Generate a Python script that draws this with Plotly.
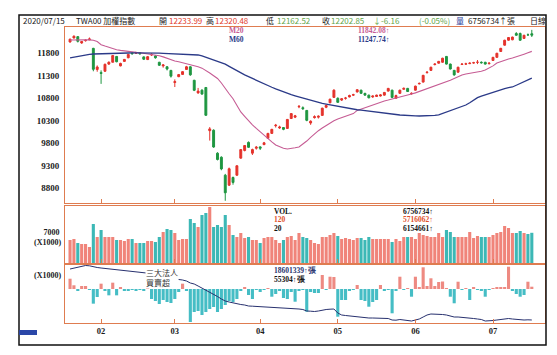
import plotly.graph_objects as go

# ---------------- data ----------------
jan_days = [13, 14, 15, 16, 17, 20, 30, 31]
feb_days = [3, 4, 5, 6, 7, 10, 11, 12, 13, 14, 17, 18, 19, 20, 21, 24, 25, 26, 27]
mar_days = [2, 3, 4, 5, 6, 9, 10, 11, 12, 13, 16, 17, 18, 19, 20, 23, 24, 25, 26, 27, 30, 31]
apr_days = [1, 6, 7, 8, 9, 10, 13, 14, 15, 16, 17, 20, 21, 22, 23, 24, 27, 28, 29, 30]
may_days = [4, 5, 6, 7, 8, 11, 12, 13, 14, 15, 18, 19, 20, 21, 22, 25, 26, 27, 28, 29]
jun_days = [1, 2, 3, 4, 5, 8, 9, 10, 11, 12, 15, 16, 17, 18, 19, 22, 23, 24, 29, 30]
jul_days = [1, 2, 3, 6, 7, 8, 9, 10, 13, 14, 15]

opens = [12050, 12140, 12170, 12030, 12080, 12100, 11910, 11440, 11370, 11400,
         11560, 11600, 11730, 11520, 11620, 11700, 11800, 11800, 11810, 11720,
         11660, 11760, 11740, 11600, 11520, 11500, 11420, 11150, 11280, 11330,
         11440, 11500, 11200, 10920, 10980, 11040, 10080, 10090, 9580, 9490,
         9090, 8870, 9040, 9090, 9470, 9640, 9820, 9580, 9690, 9720,
         9770, 9910, 10020, 10190, 10140, 10150, 10130, 10350, 10380, 10610,
         10590, 10530, 10250, 10370, 10380, 10420, 10600, 10700, 10820, 10800,
         10760, 10800, 10830, 10870, 10940, 10980, 10910, 10870, 10830, 10840,
         10850, 10870, 10960, 10980, 10800, 10910, 11000, 11020, 10900, 10980,
         11120, 11160, 11370, 11420, 11550, 11580, 11600, 11730, 11560, 11420,
         11380, 11550, 11560, 11570, 11585, 11600, 11600, 11600, 11570, 11640,
         11710, 11840, 11980, 12090, 12100, 12240, 12240, 12130, 12210, 12233.99]
highs = [12125, 12197, 12180, 12070, 12110, 12150, 11920, 11530, 11420, 11570,
         11620, 11760, 11740, 11590, 11670, 11780, 11830, 11835, 11820, 11730,
         11740, 11800, 11760, 11610, 11560, 11510, 11430, 11220, 11340, 11400,
         11520, 11510, 11210, 11030, 11000, 11050, 10160, 10110, 9600, 9510,
         9120, 9260, 9060, 9310, 9670, 9760, 9840, 9680, 9740, 9730,
         9830, 10030, 10120, 10230, 10190, 10160, 10340, 10470, 10430, 10650,
         10620, 10540, 10310, 10420, 10420, 10590, 10660, 10790, 11000, 10820,
         10800, 10830, 10880, 10900, 11000, 10990, 10920, 10880, 10860, 10880,
         10890, 10940, 11030, 10990, 10880, 10990, 11040, 11030, 10930, 11080,
         11150, 11320, 11400, 11500, 11580, 11630, 11700, 11740, 11570, 11430,
         11500, 11580, 11590, 11600, 11610, 11650, 11620, 11610, 11600, 11720,
         11810, 11920, 12100, 12160, 12170, 12270, 12260, 12210, 12240, 12320.48]
lows = [12040, 12130, 12040, 12010, 12060, 12090, 11400, 11390, 11120, 11390,
        11540, 11600, 11600, 11510, 11610, 11690, 11770, 11785, 11770, 11650,
        11650, 11740, 11680, 11520, 11480, 11420, 11260, 11050, 11270, 11320,
        11430, 11300, 10960, 10900, 10880, 10410, 9860, 9700, 9420, 9200,
        8523, 8850, 8880, 9080, 9460, 9620, 9700, 9540, 9660, 9650,
        9760, 9900, 10010, 10150, 10120, 10090, 10120, 10340, 10360, 10580,
        10540, 10290, 10210, 10350, 10350, 10410, 10580, 10690, 10810, 10700,
        10740, 10770, 10820, 10850, 10930, 10900, 10860, 10800, 10810, 10830,
        10840, 10860, 10950, 10810, 10790, 10900, 10990, 10940, 10880, 10970,
        11110, 11150, 11350, 11410, 11530, 11570, 11590, 11550, 11440, 11300,
        11370, 11540, 11540, 11560, 11570, 11560, 11570, 11550, 11550, 11630,
        11700, 11830, 11970, 12080, 12090, 12190, 12080, 12120, 12190, 12162.52]
closes = [12113, 12179, 12066, 12060, 12090, 12118, 11444, 11495, 11354, 11555,
          11600, 11749, 11612, 11574, 11664, 11774, 11791, 11815, 11790, 11668,
          11725, 11775, 11700, 11534, 11540, 11450, 11292, 11170, 11327, 11392,
          11500, 11321, 10977, 10960, 10893, 10422, 10120, 9717, 9439, 9230,
          8700, 9234, 8930, 9300, 9660, 9750, 9710, 9660, 9712, 9690,
          9810, 10020, 10110, 10200, 10160, 10110, 10330, 10460, 10410, 10620,
          10570, 10310, 10290, 10390, 10400, 10580, 10640, 10780, 10980, 10710,
          10790, 10805, 10860, 10880, 10990, 10910, 10870, 10810, 10850, 10870,
          10875, 10930, 11020, 10820, 10860, 10980, 11020, 10950, 10910, 11070,
          11130, 11310, 11380, 11490, 11560, 11620, 11690, 11560, 11450, 11320,
          11490, 11560, 11565, 11580, 11590, 11600, 11590, 11560, 11580, 11710,
          11800, 11910, 12090, 12150, 12160, 12200, 12090, 12200, 12209.01, 12202.85]

ma20 = [12096, 12100, 12105, 12105, 12100, 12098, 12090, 12060, 11990, 11960,
        11930, 11905, 11880, 11865, 11850, 11840, 11830, 11820, 11812, 11800,
        11792, 11784, 11770, 11745, 11720, 11690, 11651, 11630, 11610, 11590,
        11562, 11540, 11520, 11500, 11470, 11420, 11360, 11300, 11240, 11140,
        11010, 10900, 10790, 10640, 10496, 10400, 10300, 10210, 10130, 10051,
        9980, 9900, 9830, 9762, 9720, 9690, 9673, 9680, 9700, 9718,
        9780, 9850, 9930, 10010, 10080, 10140, 10200, 10260, 10300, 10340,
        10370, 10400, 10430, 10460, 10530, 10560, 10590, 10620, 10650, 10690,
        10718, 10740, 10760, 10780, 10800, 10820, 10840, 10860, 10896, 10920,
        10950, 10980, 11020, 11050, 11080, 11110, 11140, 11162, 11200, 11240,
        11280, 11318, 11340, 11355, 11370, 11380, 11400, 11430, 11470, 11520,
        11584, 11620, 11650, 11675, 11696, 11720, 11750, 11780, 11810, 11842.08]
ma60 = [11696, 11715, 11735, 11750, 11765, 11775, 11784, 11788, 11790, 11792,
        11795, 11798, 11800, 11802, 11805, 11806, 11807, 11808, 11808, 11808,
        11807, 11807, 11805, 11802, 11798, 11795, 11790, 11785, 11780, 11776,
        11772, 11768, 11765, 11762, 11740, 11710, 11680, 11660, 11635, 11607,
        11560, 11510, 11460, 11410, 11362, 11320, 11280, 11240, 11200, 11150,
        11110, 11080, 11045, 11010, 10975, 10940, 10910, 10880, 10855, 10829,
        10805, 10780, 10755, 10730, 10705, 10685, 10668, 10651, 10635, 10620,
        10605, 10590, 10575, 10560, 10545, 10535, 10525, 10515, 10506, 10500,
        10496, 10483, 10470, 10455, 10440, 10429, 10420, 10414, 10410, 10408,
        10406, 10406, 10407, 10414, 10422, 10429, 10460, 10495, 10530, 10560,
        10590, 10607, 10650, 10700, 10760, 10815, 10850, 10880, 10910, 10940,
        10965, 10990, 11015, 11035, 11051, 11090, 11130, 11170, 11210, 11247.74]

# volume in thousands
volume_k = [5150, 5370, 4470, 4250, 4250, 3580, 8720, 5820, 7380, 5820,
            5820, 5820, 5150, 5150, 4920, 5370, 5370, 4470, 4470, 4470,
            4920, 4920, 4700, 5820, 6930, 7610, 7380, 6710, 5150, 5370,
            5370, 9840, 8950, 8050, 10740, 11190, 12530, 8050, 8500, 8050,
            10740, 8500, 6260, 5820, 6710, 5590, 5820, 5150, 5150, 4470,
            5590, 5820, 5820, 5150, 4470, 5150, 5820, 6040, 5150, 6710,
            5820, 5590, 5150, 4470, 4250, 5820, 5820, 6260, 6710, 6040,
            5370, 5590, 5370, 5150, 5590, 5590, 5150, 5820, 5370, 5370,
            5370, 5370, 5370, 4700, 5370, 4920, 5820, 5820, 5820, 5370,
            6710, 6260, 6040, 5820, 5820, 6710, 5820, 7380, 6930, 5820,
            5820, 5820, 5820, 6930, 5590, 6040, 5820, 5820, 5820, 6260,
            6710, 6930, 8280, 7830, 6710, 6710, 7160, 6710, 6490, 6756.734]
vol_ma120_last = 5716062
vol_ma20_last = 6154661

# institutional net buy/sell (thousand lots) and cumulative line
inst_k = [247, 89, -31, 72, 72, -24, -352, -192, 128, -36,
          -152, 152, -152, 48, -48, -36, -24, -48, -24, -48,
          89, -240, -288, -360, -264, -312, -336, -240, -72, 128,
          -48, -792, -552, -528, -624, -552, -480, -432, -552, -480,
          -384, -288, -312, -240, -48, 48, -144, -240, -24, -72,
          -24, 24, -185, -120, -48, -216, -240, -72, -305, -48,
          -24, -545, -72, -96, -96, 336, -24, 295, 288, -665,
          -264, -264, -48, -24, 96, -264, -288, -425, -312, -264,
          96, -48, -24, -583, -48, 295, -24, 24, -185, 295,
          48, 521, 72, 257, 72, 168, 180, 24, -185, -343,
          175, -24, 24, -264, 48, -24, -48, -185, -24, 24,
          48, 36, 48, 535, -48, -120, -185, -144, 175, 55.304]
inst_cum_k = [23700, 23780, 23850, 23950, 24050, 24020, 23900, 23850, 23800, 23760,
              23720, 23680, 23620, 23600, 23560, 23520, 23480, 23450, 23400, 23350,
              23300, 23250, 23200, 23100, 23000, 22920, 22850, 22750, 22650, 22600,
              22500, 22300, 22200, 22000, 21800, 21600, 21350, 21150, 20950, 20700,
              20500, 20400, 20300, 20250, 20150, 20100, 20000, 19980, 19960, 19950,
              19930, 19910, 19900, 19880, 19860, 19820, 19800, 19780, 19740, 19700,
              19650, 19500, 19480, 19450, 19500, 19600, 19650, 19680, 19700, 19300,
              19100, 19050, 19000, 18980, 18950, 18900, 18850, 18800, 18800, 18790,
              18800, 18780, 18750, 18600, 18580, 18650, 18600, 18550, 18500, 18600,
              18700, 18900, 19100, 19200, 19200, 19180, 19150, 19100, 19000, 18900,
              18900, 18880, 18850, 18800, 18750, 18700, 18650, 18500, 18500, 18550,
              18600, 18650, 18700, 18750, 18700, 18650, 18620, 18600, 18620, 18601.339]

price_ticks = [11800, 11300, 10800, 10300, 9800, 9300, 8800]
month_labels = ["02", "03", "04", "05", "06", "07"]

# ---------------- build ----------------
months = [(1, jan_days), (2, feb_days), (3, mar_days), (4, apr_days),
          (5, may_days), (6, jun_days), (7, jul_days)]
dates = [f"2020-{m:02d}-{d:02d}" for m, days in months for d in days]
xs = list(range(len(dates)))
month_start = [i for i in xs if i > 0 and dates[i][5:7] != dates[i - 1][5:7]]

W, H = 557, 355
def px(x): return x / W
def py(y): return 1 - y / H

UP, DN = "#E4322B", "#1E9640"
VUP, VDN = "#F0847A", "#3CB8B6"
IUP, IDN = "#EE8A82", "#45BDC5"
BORDER = "#DF7C50"
SERIF = "Liberation Serif, DejaVu Serif, serif"
SANS = "Noto Sans CJK TC, Noto Sans, sans-serif"

vol_col = [VUP if c >= o else VDN for o, c in zip(opens, closes)]
inst_col = [IUP if v >= 0 else IDN for v in inst_k]

fig = go.Figure()
fig.add_trace(go.Candlestick(
    x=xs, open=opens, high=highs, low=lows, close=closes,
    increasing=dict(line=dict(color=UP, width=1), fillcolor=UP),
    decreasing=dict(line=dict(color=DN, width=1), fillcolor=DN),
    whiskerwidth=0, xaxis="x", yaxis="y", hoverinfo="skip"))
fig.add_trace(go.Scatter(x=xs, y=ma20, mode="lines", line=dict(color="#C65C94", width=1.1),
                         xaxis="x", yaxis="y"))
fig.add_trace(go.Scatter(x=xs, y=ma60, mode="lines", line=dict(color="#2B3A88", width=1.3),
                         xaxis="x", yaxis="y"))
fig.add_trace(go.Bar(x=xs, y=volume_k, marker=dict(color=vol_col, line=dict(width=0)),
                     xaxis="x2", yaxis="y2"))
fig.add_trace(go.Bar(x=xs, y=inst_k, marker=dict(color=inst_col, line=dict(width=0)),
                     xaxis="x3", yaxis="y3"))
fig.add_trace(go.Scatter(x=xs, y=inst_cum_k, mode="lines", line=dict(color="#27306E", width=1),
                         xaxis="x3", yaxis="y4"))

xdom = [px(65), px(545)]
xr = [-1.3, 122.4]
common_x = dict(domain=xdom, range=xr, showgrid=False, zeroline=False, showline=True,
                mirror=True, linecolor=BORDER, linewidth=1, tickvals=month_start,
                ticks="inside", ticklen=4, tickcolor=BORDER)
common_y = dict(showgrid=False, zeroline=False, showline=True, mirror=True,
                linecolor=BORDER, linewidth=1, ticks="", fixedrange=True)

fig.update_layout(
    width=W, height=H, margin=dict(l=0, r=0, t=0, b=0),
    paper_bgcolor="white", plot_bgcolor="white", showlegend=False, bargap=0.2,
    xaxis=dict(**common_x, anchor="y", showticklabels=False, rangeslider=dict(visible=False)),
    yaxis=dict(**common_y, domain=[py(203), py(27)], range=[8473, 12384],
               tickvals=price_ticks, ticktext=[str(t) for t in price_ticks],
               tickfont=dict(family=SERIF, size=9, color="#1c1c1c", weight="bold"),
               ticklabelstandoff=3),
    xaxis2=dict(**common_x, anchor="y2", showticklabels=False),
    yaxis2=dict(**common_y, domain=[py(263), py(206)], range=[0, 12750],
                tickvals=[7000], ticktext=["7000"],
                tickfont=dict(family=SERIF, size=8, color="#1c1c1c", weight="bold"),
                ticklabelstandoff=3),
    xaxis3=dict(**common_x, anchor="y3", showticklabels=True, ticktext=month_labels,
                tickfont=dict(family=SERIF, size=8.5, color="#1c1c1c", weight="bold")),
    yaxis3=dict(**common_y, domain=[py(323), py(265)], range=[-816, 576], showticklabels=False),
    yaxis4=dict(overlaying="y3", range=[18300, 24100], showticklabels=False, showgrid=False,
                zeroline=False, showline=False, fixedrange=True),
)

anns = []
def ann(text, x, y, color="#222", size=8.5, family=SANS, xanchor="left", weight="normal",
        bg=None, yanchor="middle", align="left"):
    d = dict(text=text, x=px(x), y=py(y), xref="paper", yref="paper", xanchor=xanchor,
             yanchor=yanchor, showarrow=False, align=align, borderpad=0,
             font=dict(family=family, size=size, color=color, weight=weight))
    if bg:
        d["bgcolor"] = bg
    anns.append(d)

# header
RED, GRN = "#E23A2A", "#5FA548"
last = len(closes) - 1
chg = closes[last] - closes[last - 1]
HS = 8
ann("2020/07/15", 22, 20, "#222", HS)
ann("TWA00 加權指數", 75, 20, "#222", HS)
ann("開", 158, 20, "#222", HS)
ann(f"{opens[last]:.2f}", 168, 20, RED, HS)
ann("高", 205, 20, "#222", HS)
ann(f"{highs[last]:.2f}", 214, 20, RED, HS)
ann("低", 265, 20, "#222", HS)
ann(f"{lows[last]:.2f}", 276, 20, GRN, HS)
ann("收", 321, 20, "#222", HS)
ann(f"{closes[last]:.2f}", 330, 20, GRN, HS)
ann(f"↓{chg:.2f}", 372, 20, GRN, HS)
ann(f"({chg / closes[last - 1] * 100:.2f}%)", 418, 20, GRN, HS)
ann("量", 455, 20, "#2A3F9A", HS)
ann(f"{round(volume_k[last] * 1000)}↑張", 467, 20, "#222", HS)
ann("日線", 529, 20, "#222", HS)

# MA legend
ann("M20", 228, 31, "#C65C94", 7.5, SERIF, weight="bold")
ann("M60", 228, 39.5, "#2B3A88", 7.5, SERIF, weight="bold")
ann(f"{ma20[last]:.2f}↑", 357, 31, "#C65C94", 7.5, SERIF, weight="bold")
ann(f"{ma60[last]:.2f}↑", 357, 39.5, "#2B3A88", 7.5, SERIF, weight="bold")

# volume legend
ann("VOL.", 273, 211, "#111", 7.5, SERIF, weight="bold")
ann("120", 273, 219.5, "#E0502A", 7.5, SERIF, weight="bold")
ann("20", 273, 228, "#111", 7.5, SERIF, weight="bold")
ann(f"{round(volume_k[last] * 1000)}↑", 402, 211, "#111", 7.5, SERIF, weight="bold")
ann(f"{vol_ma120_last}↑", 402, 219.5, "#E0502A", 7.5, SERIF, weight="bold")
ann(f"{vol_ma20_last}↑", 402, 228, "#111", 7.5, SERIF, weight="bold")
ann("(X1000)", 62, 242, "#1c1c1c", 8, SERIF, xanchor="right", weight="bold")

# institutional legend
ann("三大法人<br>買賣超", 145, 266, "#333", 8, SANS, bg="white", yanchor="top")
ann(f"{round(inst_cum_k[last] * 1000)}↑張", 273, 270, "#2A3570", 7.5, SERIF, weight="bold")
ann(f"{round(inst_k[last] * 1000)}↑張", 273, 279, "#111", 7.5, SERIF, weight="bold")
ann("(X1000)", 62, 275, "#1c1c1c", 8, SERIF, xanchor="right", weight="bold")

fig.update_layout(annotations=anns)

fig.update_layout(shapes=[
    dict(type="rect", xref="paper", yref="paper", x0=px(19), x1=px(546), y0=py(345), y1=py(15),
         line=dict(color="#111", width=1.5), fillcolor="rgba(0,0,0,0)", layer="above"),
    dict(type="rect", xref="paper", yref="paper", x0=px(19), x1=px(37), y0=py(335), y1=py(330),
         line=dict(color="#2B47A8", width=0), fillcolor="#2B47A8"),
])

fig.write_html("out.html")
